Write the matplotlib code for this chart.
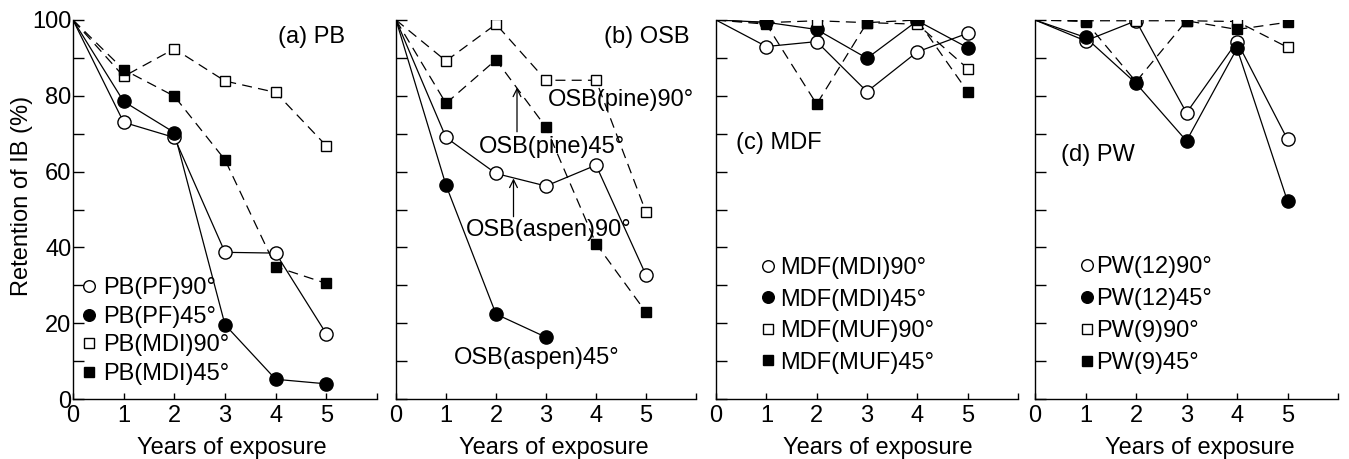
import matplotlib
matplotlib.use("Agg")
import matplotlib.pyplot as plt
from matplotlib.lines import Line2D

plt.rcParams['font.family'] = ['Liberation Sans', 'DejaVu Sans']

years = [0, 1, 2, 3, 4, 5]

# (a) PB
pb_pf90 = [100, 73, 69, 38.7, 38.5, 17.2]
pb_pf45 = [100, 78.5, 70.3, 19.6, 5.2, 4.0]
pb_mdi90 = [100, 85.1, 92.4, 83.9, 80.9, 66.8]
pb_mdi45 = [100, 86.9, 79.9, 63.1, 34.9, 30.5]

# (b) OSB
osb_aspen90 = [100, 69.0, 59.5, 56.2, 61.7, 32.7]
osb_aspen45 = [100, 56.4, 22.4, 16.3]
osb_pine90 = [100, 89.2, 98.9, 84.1, 84.1, 49.3]
osb_pine45 = [100, 78.0, 89.5, 71.7, 41.0, 22.9]

# (c) MDF
mdf_mdi90 = [100, 93.0, 94.3, 81.1, 91.6, 96.5]
mdf_mdi45 = [100, 99.4, 97.5, 89.9, 99.8, 92.7]
mdf_muf90 = [100, 99.3, 99.8, 99.3, 98.9, 87.2]
mdf_muf45 = [100, 98.9, 77.8, 99.3, 100, 81.1]

# (d) PW
pw12_90 = [100, 94.5, 99.8, 75.5, 94.3, 68.5]
pw12_45 = [100, 95.4, 83.3, 68.1, 92.5, 52.2]
pw9_90 = [100, 99.8, 99.8, 99.8, 99.6, 92.8]
pw9_45 = [100, 99.6, 83.7, 99.8, 97.5, 99.4]

xtick_labels = ['0', '1', '2', '3', '4', '5', '']
ytick_labels = ['0', '20', '40', '60', '80', '100']

FS = 17
fig = plt.figure(figsize=(13.49, 4.59), dpi=100)
W, H = 1349, 459
bot = 1 - 399 / H
hgt = 379 / H
lefts = [73, 396, 716, 1035]
widths = [304, 300, 302, 303]
xlabel_x = [0.523, 0.527, 0.536, 0.545]
axes = [fig.add_axes([l / W, bot, w / W, hgt]) for l, w in zip(lefts, widths)]

styles = {
    'oc': dict(marker='o', mfc='white', mec='black', ms=9.5),
    'fc': dict(marker='o', mfc='black', mec='black', ms=9.5),
    'os': dict(marker='s', mfc='white', mec='black', ms=7.5),
    'fs': dict(marker='s', mfc='black', mec='black', ms=7.5),
}
dash = (0, (8, 5))


def draw(ax, y, kind, ls):
    st = styles[kind]
    x = years[:len(y)]
    ax.plot(x, y, color='black', lw=0.9, ls=ls, zorder=2)
    ax.plot(x[1:], y[1:], ls='none', mew=1.0, zorder=3, **st)


def handle(kind):
    st = dict(styles[kind])
    st['ms'] = st['ms'] * 0.88
    return Line2D([], [], ls='none', mew=1.0, **st)


for i, ax in enumerate(axes):
    ax.set_xlim(0, 6)
    ax.set_ylim(0, 100)
    for s in ['top', 'right']:
        ax.spines[s].set_visible(False)
    for s in ['left', 'bottom']:
        ax.spines[s].set_linewidth(1.0)
    ax.set_xticks(range(7))
    ax.set_xticklabels(xtick_labels)
    ax.set_yticks(range(0, 101, 20))
    ax.set_yticks(range(0, 101, 10), minor=True)
    ax.tick_params(axis='x', direction='in', length=4, width=1, labelsize=FS, pad=4)
    ax.tick_params(axis='y', which='both', direction='in', length=8, width=1,
                   labelsize=FS, pad=1)
    if i == 0:
        ax.set_yticklabels(ytick_labels)
        ax.set_ylabel('Retention of IB (%)', fontsize=FS)
        ax.yaxis.set_label_coords(-0.133, 0.536)
    else:
        ax.set_yticklabels([])
    ax.set_xlabel('Years of exposure', fontsize=FS, va='top')
    ax.xaxis.set_label_coords(xlabel_x[i], -0.1)

# (a)
ax = axes[0]
draw(ax, pb_pf90, 'oc', '-')
draw(ax, pb_pf45, 'fc', '-')
draw(ax, pb_mdi90, 'os', dash)
draw(ax, pb_mdi45, 'fs', dash)
ax.text(4.05, 95.5, '(a) PB', fontsize=FS, va='center', ha='left')
ax.legend([handle('oc'), handle('fc'), handle('os'), handle('fs')],
          ['PB(PF)90°', 'PB(PF)45°', 'PB(MDI)90°', 'PB(MDI)45°'],
          loc='upper left', bbox_to_anchor=(0.03, 0.321), frameon=False,
          fontsize=FS, handlelength=0.6, handletextpad=0.3, labelspacing=0.275,
          borderpad=0, borderaxespad=0)

# (b)
ax = axes[1]
draw(ax, osb_aspen90, 'oc', '-')
draw(ax, osb_aspen45, 'fc', '-')
draw(ax, osb_pine90, 'os', dash)
draw(ax, osb_pine45, 'fs', dash)
ax.text(4.15, 95.5, '(b) OSB', fontsize=FS, va='center', ha='left')
ax.text(3.03, 78.9, 'OSB(pine)90°', fontsize=FS, va='center', ha='left')
ax.text(1.65, 66.5, 'OSB(pine)45°', fontsize=FS, va='center', ha='left')
ax.text(1.39, 44.6, 'OSB(aspen)90°', fontsize=FS, va='center', ha='left')
ax.text(1.15, 10.8, 'OSB(aspen)45°', fontsize=FS, va='center', ha='left')
arrow = dict(arrowstyle='->', color='black', lw=0.9, shrinkA=0, shrinkB=0,
             mutation_scale=14)
ax.annotate('', xy=(2.42, 82.2), xytext=(2.42, 70.5), arrowprops=arrow)
ax.annotate('', xy=(2.35, 58.2), xytext=(2.35, 48.1), arrowprops=arrow)

# (c)
ax = axes[2]
draw(ax, mdf_mdi90, 'oc', '-')
draw(ax, mdf_mdi45, 'fc', '-')
draw(ax, mdf_muf90, 'os', dash)
draw(ax, mdf_muf45, 'fs', dash)
ax.text(0.40, 67.5, '(c) MDF', fontsize=FS, va='center', ha='left')
ax.legend([handle('oc'), handle('fc'), handle('os'), handle('fs')],
          ['MDF(MDI)90°', 'MDF(MDI)45°', 'MDF(MUF)90°', 'MDF(MUF)45°'],
          loc='upper left', bbox_to_anchor=(0.15, 0.374), frameon=False,
          fontsize=FS, handlelength=0.6, handletextpad=0.2, labelspacing=0.40,
          borderpad=0, borderaxespad=0)

# (d)
ax = axes[3]
draw(ax, pw12_90, 'oc', '-')
draw(ax, pw12_45, 'fc', '-')
draw(ax, pw9_90, 'os', dash)
draw(ax, pw9_45, 'fs', dash)
ax.text(0.51, 64.4, '(d) PW', fontsize=FS, va='center', ha='left')
ax.legend([handle('oc'), handle('fc'), handle('os'), handle('fs')],
          ['PW(12)90°', 'PW(12)45°', 'PW(9)90°', 'PW(9)45°'],
          loc='upper left', bbox_to_anchor=(0.147, 0.376), frameon=False,
          fontsize=FS, handlelength=0.6, handletextpad=0.1, labelspacing=0.42,
          borderpad=0, borderaxespad=0)

fig.savefig('out.png', dpi=100)
